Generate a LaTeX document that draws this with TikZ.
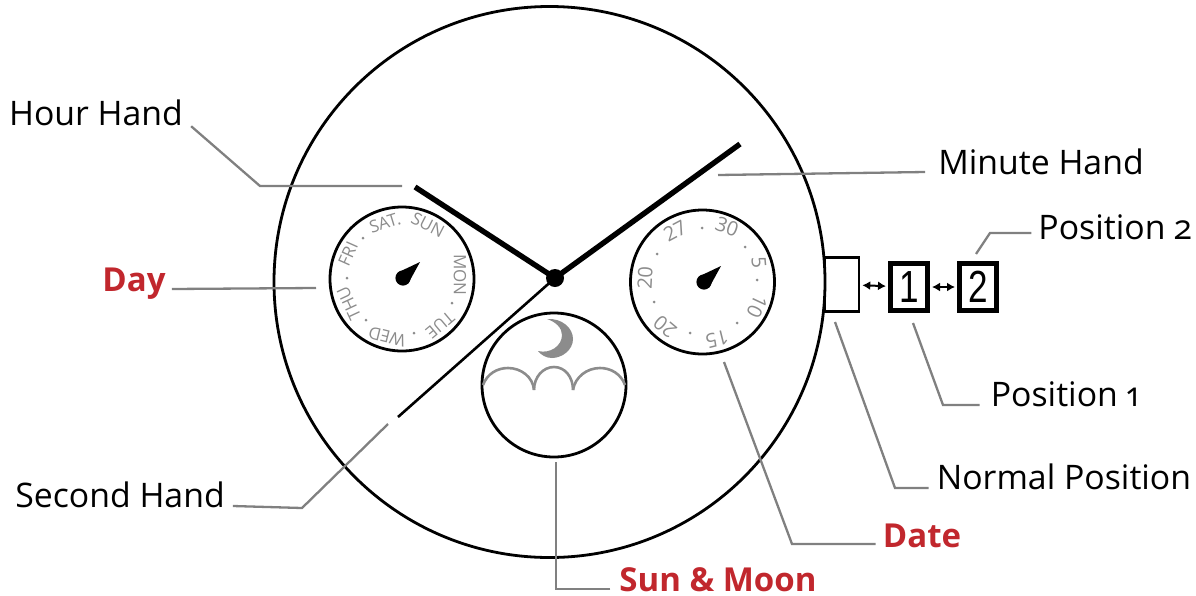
\documentclass[tikz,border=0pt]{standalone}
\usepackage{fontspec}
\usepackage{graphicx}
\usepackage{xcolor}
\usetikzlibrary{arrows.meta}
\setmainfont[Numbers=OldStyle]{Open Sans}
\newfontfamily\digitfont{Liberation Sans}
\definecolor{leadgray}{HTML}{808080}
\definecolor{dialgray}{HTML}{8C8C8C}
\definecolor{labelred}{HTML}{C1272D}
\tikzset{
    lbl/.style={font=\fontsize{33.8}{38}\selectfont,inner sep=0pt},
    redlbl/.style={lbl,font=\fontsize{33}{38}\selectfont\bfseries,text=labelred},
    leader/.style={draw=leadgray,line width=2.3pt},
    dial/.style={draw,circle,line width=2.8pt,inner sep=0pt,minimum size=144pt},
    dialtxt/.style={font=\fontsize{17}{20}\selectfont,text=dialgray,inner sep=0pt},
    datetxt/.style={font=\fontsize{20}{22}\selectfont\addfontfeature{Numbers=Lining},text=dialgray,inner sep=0pt},
    dialdot/.style={fill=dialgray,circle,inner sep=0pt,minimum size=3pt},
    posbox/.style={draw,line width=5pt,inner sep=0pt,minimum width=37pt,minimum height=47pt,font=\digitfont\fontsize{45}{45}\selectfont},
    switch/.style={{Latex[length=8pt,width=9pt]}-{Latex[length=8pt,width=9pt]},line width=2pt,shorten <=2pt,shorten >=2pt}
}
\begin{document}
\begin{tikzpicture}[x=1pt,y=-1pt]
    \useasboundingbox (0,0) rectangle (1196,595);

    % case and sub dials
    \draw[line width=2.8pt] (549.5,282) circle (275.5);
    \node[dial] (daydial) at (402,279) {};
    \node[dial] (datedial) at (702.5,282) {};
    \node[dial] (moondial) at (554,385) {};

    % day ring
    \node[dialtxt,rotate=-27] (sun) at (428,225) {SUN};
    \node[dialtxt,rotate=-90] (mon) at (460,275) {MON};
    \node[dialtxt,rotate=-140] (tue) at (440,325) {TUE};
    \node[dialtxt,rotate=-194] (wed) at (387,337) {WED};
    \node[dialtxt,rotate=-245] (thu) at (349,303) {THU};
    \node[dialtxt,rotate=-294] (fri) at (348,254) {FRI};
    \node[dialtxt,rotate=-343] (sat) at (385,223) {SAT.};
    \node[dialdot] (dayA) at (363,238) {};
    \node[dialdot] (dayB) at (347,278) {};
    \node[dialdot] (dayC) at (366,320) {};
    \node[dialdot] (dayD) at (414,333) {};
    \node[dialdot] (dayE) at (452,303) {};

    % date ring
    \node[datetxt,rotate=-20] (thirty) at (727,227) {30};
    \node[datetxt,rotate=-85] (five) at (759,263) {5};
    \node[datetxt,rotate=-115] (ten) at (757,307) {10};
    \node[datetxt,rotate=-166] (fifteen) at (717,339) {15};
    \node[datetxt,rotate=-220] (twenty) at (665,327) {20};
    \node[datetxt,rotate=-273] (twentyb) at (645,278) {20};
    \node[datetxt,rotate=-332] (twentyseven) at (675,231) {27};
    \node[dialdot] (dateA) at (745,247) {};
    \node[dialdot] (dateB) at (757,280) {};
    \node[dialdot] (dateC) at (737,323) {};
    \node[dialdot] (dateD) at (690,333) {};
    \node[dialdot] (dateE) at (654,302) {};
    \node[dialdot] (dateF) at (657,254) {};
    \node[dialdot] (dateG) at (702,228) {};

    % small pointers
    \fill (403,278) circle (7.6);
    \fill (420,262) -- (408.2,283.5) -- (397.8,272.5) -- cycle;
    \fill (704,282) circle (7.6);
    \fill (721,266) -- (709.2,287.5) -- (698.8,276.5) -- cycle;

    % moon and hills
    \fill[dialgray] (547,319) .. controls (562,318) and (573,328) .. (573,339) .. controls (573,350) and (562,358) .. (552,358) .. controls (546,358) and (541,355) .. (538,351) .. controls (550,354) and (562,346) .. (562,335) .. controls (562,328) and (556,322) .. (547,319) -- cycle;
    \draw[dialgray,line width=2.6pt] (483,385) .. controls (487,374) and (497,368) .. (508,368) .. controls (521,368) and (533,377) .. (534,390);
    \draw[dialgray,line width=2.6pt] (534,390) .. controls (534,377) and (543,367) .. (554,367) .. controls (565,367) and (573,377) .. (573,390);
    \draw[dialgray,line width=2.6pt] (573,390) .. controls (575,377) and (587,368) .. (600,368) .. controls (611,368) and (621,374) .. (625,385);

    % hands
    \coordinate (hourtip) at (415,187);
    \coordinate (minutetip) at (740,144);
    \coordinate (secondtip) at (398,417);
    \node[fill,circle,inner sep=0pt,minimum size=18pt] (hub) at (555,278) {};
    \draw[line width=5.4pt] (hub.center) -- (hourtip);
    \draw[line width=5.4pt] (hub.center) -- (minutetip);
    \draw[line width=2.6pt] (hub.center) -- (secondtip);

    % crown positions
    \node[draw,line width=2.6pt,inner sep=0pt,minimum width=34pt,minimum height=54pt] (crown) at (842,284.5) {};
    \node[posbox] (posone) at (909,287) {\scalebox{.78}[1]{1}};
    \node[posbox] (postwo) at (978,287) {\scalebox{.78}[1]{2}};
    \draw[switch] (crown) -- (posone);
    \draw[switch] (posone) -- (postwo);

    % labels
    \node[lbl] (hourlbl) at (96,113) {Hour Hand};
    \node[lbl] (minutelbl) at (1041,162) {Minute Hand};
    \node[lbl] (posonelbl) at (1065,394) {Position 1};
    \node[lbl] (postwolbl) at (1115,227) {Position 2};
    \node[lbl] (normallbl) at (1064,477) {Normal Position};
    \node[lbl] (secondlbl) at (120,495) {Second Hand};
    \node[redlbl] (daylbl) at (134,284) {Day};
    \node[redlbl] (datelbl) at (922,536) {Date};
    \node[redlbl] (moonlbl) at (718,580) {Sun \& Moon};

    % leaders
    \coordinate (hourend) at (402,186);
    \coordinate (minuteend) at (718,175);
    \coordinate (dayend) at (316,288);
    \coordinate (secondend) at (388,424);
    \coordinate (moonend) at (556,462);
    \coordinate (dateend) at (724,362);
    \coordinate (normalend) at (835,322);
    \coordinate (posoneend) at (913,323);
    \coordinate (postwoend) at (976,254);
    \draw[leader] (hourlbl.south east) ++(8,0) -- (260,186) -- (hourend);
    \draw[leader] (minutelbl.west) ++(-13,10) -- (minuteend);
    \draw[leader] (daylbl.east) ++(6,5) -- (dayend);
    \draw[leader] (secondlbl.east) ++(8,11) -- (302,508) -- (secondend);
    \draw[leader] (moonlbl.west) ++(-9,9) -- (556,589) -- (moonend);
    \draw[leader] (datelbl.west) ++(-7,8) -- (792,544) -- (dateend);
    \draw[leader] (normallbl.west) ++(-8,11) -- (895,488) -- (normalend);
    \draw[leader] (posonelbl.west) ++(-11,11) -- (943,405) -- (posoneend);
    \draw[leader] (postwolbl.west) ++(-7,6) -- (990,233) -- (postwoend);
\end{tikzpicture}
\end{document}
